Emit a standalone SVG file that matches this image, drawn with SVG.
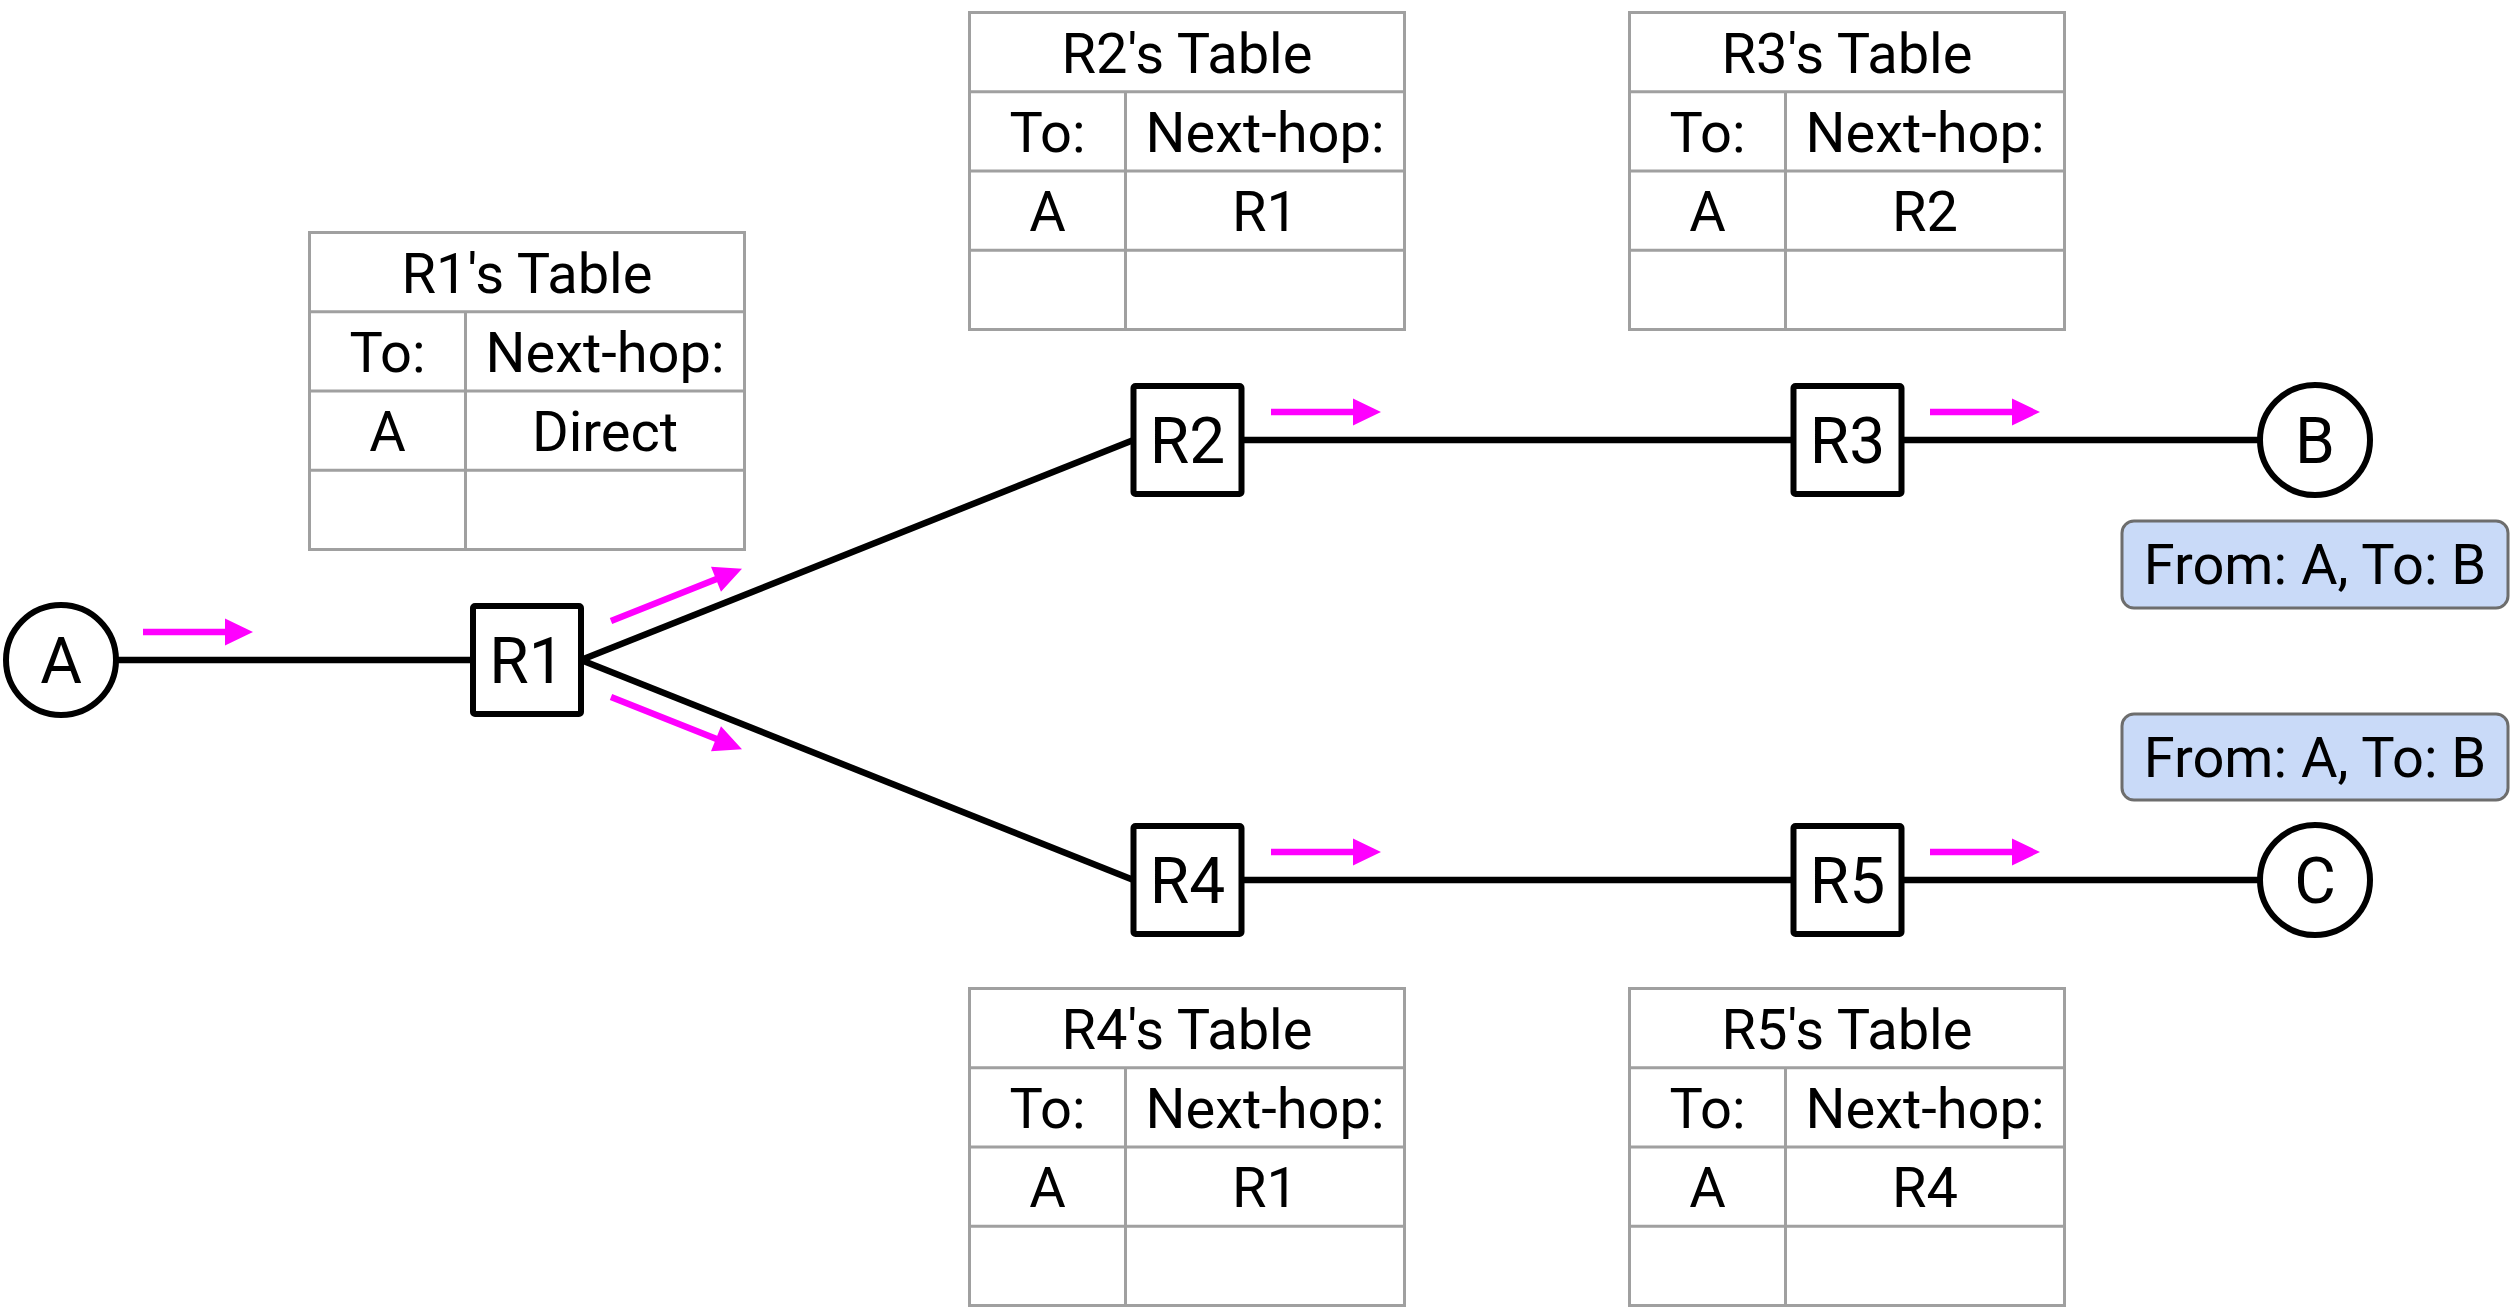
<svg xmlns="http://www.w3.org/2000/svg" xmlns:xlink="http://www.w3.org/1999/xlink" width="2520" height="1310" viewBox="0 0 2520 1310">
<style>
text{font-family:Roboto,"Liberation Sans",Arial,sans-serif;fill:#000;text-anchor:middle}
.t{font-size:56px}
.n{font-size:64px}
.grid{fill:#fff;stroke:#a0a0a0;stroke-width:3}
.gl{stroke:#a0a0a0;stroke-width:3;fill:none}
.box{fill:#fff;stroke:#000;stroke-width:6}
.circ{fill:#fff;stroke:#000;stroke-width:6}
.link{stroke:#000;stroke-width:6.5;fill:none}
.flow{fill:#ff00ff}
.tag{fill:#c9daf8;stroke:#6d6d6d;stroke-width:3}
</style>
<defs>
<path id="arr" d="M0,-3.25 H82 V-13.5 L110,0 L82,13.5 V3.25 H0 Z"/>
<path id="arrL" d="M0,-3.25 H113 V-13.5 L141,0 L113,13.5 V3.25 H0 Z"/>
<g id="tbl">
<rect class="grid" x="0" y="0" width="435" height="317"/>
<path class="gl" d="M0,79.25 H435 M0,158.5 H435 M0,237.75 H435 M156,79.25 V317"/>
<text class="t" x="78" y="139">To:</text>
<text class="t" x="295.5" y="139">Next-hop:</text>
<text class="t" x="78" y="218">A</text>
</g>
</defs>

<g id="connectors">
<line class="link" x1="116" y1="660" x2="473" y2="660"/>
<line class="link" x1="581" y1="660" x2="1133.5" y2="440"/>
<line class="link" x1="581" y1="660" x2="1133.5" y2="880"/>
<line class="link" x1="1241.5" y1="440" x2="1793.5" y2="440"/>
<line class="link" x1="1901.5" y1="440" x2="2260" y2="440"/>
<line class="link" x1="1241.5" y1="880" x2="1793.5" y2="880"/>
<line class="link" x1="1901.5" y1="880" x2="2260" y2="880"/>
</g>

<g id="flow-arrows" class="flow">
<use xlink:href="#arr" transform="translate(143,632)"/>
<use xlink:href="#arrL" transform="translate(611,621) rotate(-21.7)"/>
<use xlink:href="#arrL" transform="translate(611,697) rotate(21.7)"/>
<use xlink:href="#arr" transform="translate(1271,412)"/>
<use xlink:href="#arr" transform="translate(1930,412)"/>
<use xlink:href="#arr" transform="translate(1271,852)"/>
<use xlink:href="#arr" transform="translate(1930,852)"/>
</g>

<g id="node-A"><circle class="circ" cx="61" cy="660" r="55"/><text class="n" x="61" y="683">A</text></g>
<g id="node-B"><circle class="circ" cx="2315" cy="440" r="55"/><text class="n" x="2315" y="463">B</text></g>
<g id="node-C"><circle class="circ" cx="2315" cy="880" r="55"/><text class="n" x="2315" y="903">C</text></g>

<g id="node-R1"><rect class="box" x="473" y="606" width="108" height="108" rx="2"/><text class="n" x="527" y="683">R1</text></g>
<g id="node-R2"><rect class="box" x="1133.5" y="386" width="108" height="108" rx="2"/><text class="n" x="1187.5" y="463">R2</text></g>
<g id="node-R3"><rect class="box" x="1793.5" y="386" width="108" height="108" rx="2"/><text class="n" x="1847.5" y="463">R3</text></g>
<g id="node-R4"><rect class="box" x="1133.5" y="826" width="108" height="108" rx="2"/><text class="n" x="1187.5" y="903">R4</text></g>
<g id="node-R5"><rect class="box" x="1793.5" y="826" width="108" height="108" rx="2"/><text class="n" x="1847.5" y="903">R5</text></g>

<g id="table-R1" transform="translate(309.5,232.5)">
<use xlink:href="#tbl"/>
<text class="t" x="217.5" y="60">R1's Table</text>
<text class="t" x="295.5" y="218">Direct</text>
</g>
<g id="table-R2" transform="translate(969.5,12.5)">
<use xlink:href="#tbl"/>
<text class="t" x="217.5" y="60">R2's Table</text>
<text class="t" x="295.5" y="218">R1</text>
</g>
<g id="table-R3" transform="translate(1629.5,12.5)">
<use xlink:href="#tbl"/>
<text class="t" x="217.5" y="60">R3's Table</text>
<text class="t" x="295.5" y="218">R2</text>
</g>
<g id="table-R4" transform="translate(969.5,988.5)">
<use xlink:href="#tbl"/>
<text class="t" x="217.5" y="60">R4's Table</text>
<text class="t" x="295.5" y="218">R1</text>
</g>
<g id="table-R5" transform="translate(1629.5,988.5)">
<use xlink:href="#tbl"/>
<text class="t" x="217.5" y="60">R5's Table</text>
<text class="t" x="295.5" y="218">R4</text>
</g>

<g id="packet-1"><rect class="tag" x="2122" y="521" width="386" height="87" rx="12"/><text class="t" x="2315" y="584">From: A, To: B</text></g>
<g id="packet-2"><rect class="tag" x="2122" y="714" width="386" height="86" rx="12"/><text class="t" x="2315" y="777">From: A, To: B</text></g>
</svg>
